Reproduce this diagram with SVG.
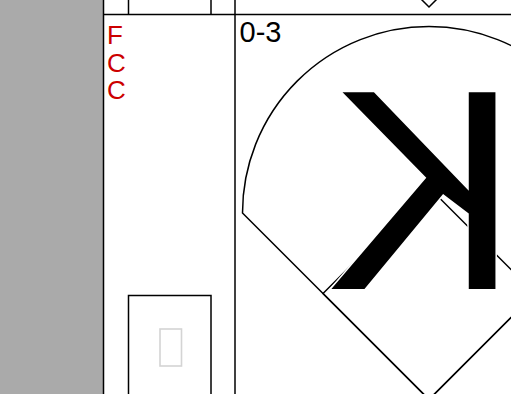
<svg xmlns="http://www.w3.org/2000/svg" width="511" height="394" viewBox="0 0 511 394">
<style>
.ln{stroke:#000;stroke-width:1.5;fill:none}
.pitch{font-family:"Liberation Sans",Arial,sans-serif;font-size:26px;fill:#cc0000}
.count{font-family:"Liberation Sans",Arial,sans-serif;font-size:29px;fill:#000}
.kk{font-family:"Liberation Sans",Arial,sans-serif;font-size:286px;fill:#000;stroke:#fff;stroke-width:3;paint-order:stroke}
</style>
<rect x="0" y="0" width="511" height="394" fill="#fff"/>
<rect x="0" y="0" width="103.5" height="394" fill="#aaaaaa"/>
<g id="grid">
<line class="ln" x1="103.5" y1="0" x2="103.5" y2="394"/>
<line class="ln" x1="235" y1="0" x2="235" y2="394"/>
<line class="ln" x1="103.5" y1="14.5" x2="511" y2="14.5"/>
<line class="ln" x1="128.5" y1="0" x2="128.5" y2="14.5"/>
<line class="ln" x1="211" y1="0" x2="211" y2="14.5"/>
<polyline class="ln" points="419,-3 429,7 439,-3"/>
</g>
<g id="pitches">
<text class="pitch" x="107" y="44">F</text>
<text class="pitch" x="107" y="72">C</text>
<text class="pitch" x="107" y="99">C</text>
</g>
<g id="box">
<rect class="ln" x="128.5" y="295.5" width="82.5" height="110"/>
<rect x="160" y="329" width="21.5" height="37" fill="none" stroke="#d4d4d4" stroke-width="1.6"/>
</g>
<g id="count">
<text class="count" x="239.5" y="42">0-3</text>
</g>
<g id="field">
<path class="ln" d="M242.5,213 L429,399.5 L615.5,213 A186.5,186.5 0 0 0 242.5,213 Z"/>
<path class="ln" d="M323,293.5 L429,187.5 L535,293.5 L429,399.5 Z"/>
</g>
<g id="strikeout">
<text class="kk" transform="translate(518.9,289) scale(-1,1)" x="0" y="0">K</text>
</g>
</svg>
